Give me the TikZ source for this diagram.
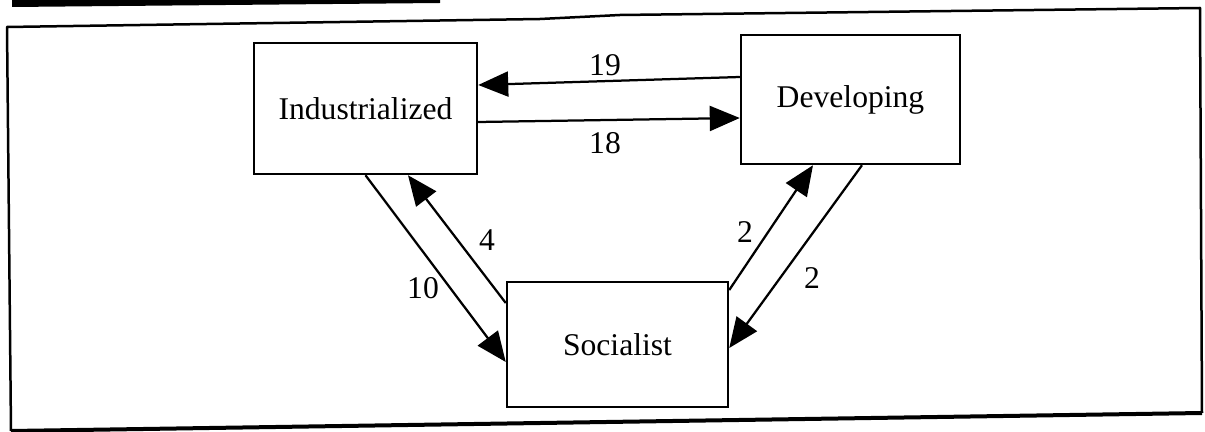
\documentclass[tikz,border=0pt]{standalone}
\usepackage{fontspec}
\setmainfont{Liberation Serif}
\usetikzlibrary{arrows.meta,calc}

\begin{document}
\begin{tikzpicture}[
    x=0.02cm, y=-0.02cm,
    box/.style={draw, line width=0.05cm, inner sep=0pt, font=\fontsize{18}{21}\selectfont},
    flow/.style={-{Triangle[length=0.6cm, width=0.5cm]}, line width=0.045cm},
    num/.style={font=\fontsize{18}{21}\selectfont, inner sep=1pt},
]
\useasboundingbox (0,0) rectangle (1205,432);

% --- scanned frame ---
\fill (12,0) -- (440,0) -- (440,3) -- (12,7) -- cycle;
\draw[line width=0.05cm, line join=round] (11,431) -- (7,27) -- (540,19) -- (620,15) -- (1200,8) -- (1202,413);
\draw[line width=0.08cm] (11,431) -- (1202,413);

% --- regions ---
\node[box, minimum width=4.46cm, minimum height=2.62cm] (ind) at (365.5,108.5) {Industrialized};
\node[box, minimum width=4.38cm, minimum height=2.58cm] (dev) at (850.5,99.5) {Developing};
\node[box, minimum width=4.42cm, minimum height=2.5cm] (soc) at (617.5,344.5) {Socialist};

% --- flows between regions ---
\draw[flow] ([yshift=0.45cm]dev.west) -- ([yshift=0.47cm]ind.east);    % 19
\draw[flow] ([yshift=-0.27cm]ind.east) -- ([yshift=-0.37cm]dev.west);  % 18
\draw[flow] (ind.south) -- ([yshift=-0.35cm]soc.west);                % 10
\draw[flow] ([yshift=0.83cm]soc.west) -- ([xshift=0.85cm]ind.south);   % 4
\draw[flow] ([yshift=1.09cm]soc.east) -- ([xshift=-0.75cm]dev.south);  % 2
\draw[flow] ([xshift=0.23cm]dev.south) -- ([yshift=-0.07cm]soc.east);  % 2

% labels
\node[num] (n19) at (605,65) {19};
\node[num] (n18) at (605,143) {18};
\node[num] (n10) at (423,288) {10};
\node[num] (n4) at (487,240) {4};
\node[num] (n2a) at (745,232) {2};
\node[num] (n2b) at (812,278) {2};

\end{tikzpicture}
\end{document}
